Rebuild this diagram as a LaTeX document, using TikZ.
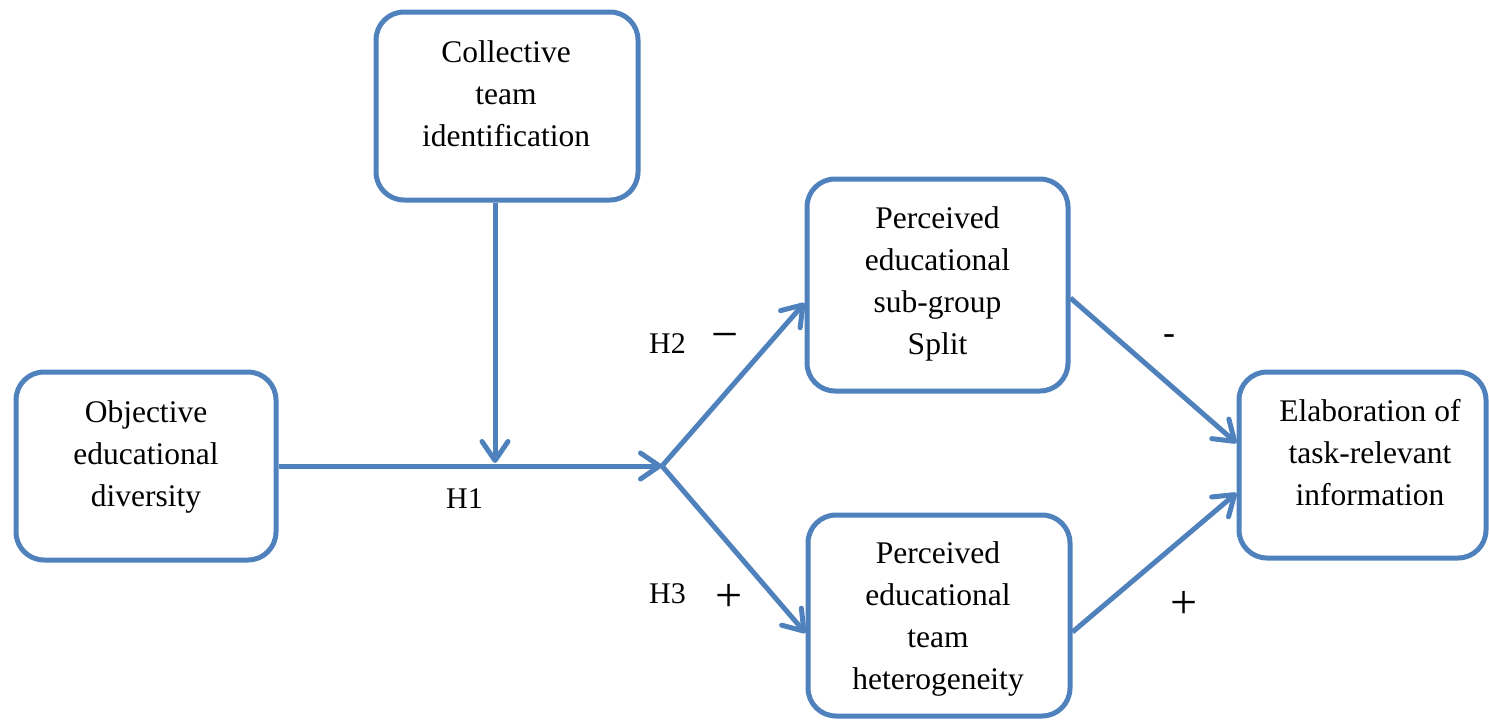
\documentclass[tikz,border=0pt]{standalone}
\usepackage{fontspec}
\setmainfont{Liberation Serif}
\usetikzlibrary{arrows.meta}
\definecolor{officeblue}{HTML}{4F81BD}
\tikzset{
  box/.style={draw=officeblue, line width=5pt, rounded corners=28pt, fill=white, inner sep=0pt},
  boxtext/.style={anchor=base, inner sep=0pt, font=\fontsize{31.5}{42}\selectfont},
  lbl/.style={anchor=base, inner sep=0pt, font=\fontsize{30}{36}\selectfont},
  sgn/.style={anchor=center, inner sep=0pt, font=\fontsize{48}{54}\selectfont},
  arr/.style={draw=officeblue, line width=5pt, -{Straight Barb[length=19pt, width=26pt, round]}}
}
\newcommand{\lines}[1]{\begin{tabular}[t]{@{}c@{}}#1\end{tabular}}
\begin{document}
\begin{tikzpicture}[x=1pt, y=-1pt]
\useasboundingbox (0,0) rectangle (1489,721);
% boxes
\node[box, minimum width=260pt, minimum height=188pt] (A) at (146,466) {};
\node[box, minimum width=262pt, minimum height=188pt] (B) at (507,106) {};
\node[box, minimum width=261pt, minimum height=212pt] (C) at (937.5,285) {};
\node[box, minimum width=262pt, minimum height=201pt] (D) at (939,615.5) {};
\node[box, minimum width=247pt, minimum height=186pt] (E) at (1362.5,465) {};
% box texts
\node[boxtext] (tA) at (146,422) {\lines{Objective\\educational\\diversity}};
\node[boxtext] (tB) at (506,62) {\lines{Collective\\team\\identification}};
\node[boxtext] (tC) at (937.5,228) {\lines{Perceived\\educational\\sub-group\\Split}};
\node[boxtext] (tD) at (938,563) {\lines{Perceived\\educational\\team\\heterogeneity}};
\node[boxtext] (tE) at (1370,421) {\lines{Elaboration of\\task-relevant\\information}};
% junction points
\coordinate (J) at (662,466);
\coordinate (T) at (495,463);
% connectors
\draw[arr] (A.east |- J) -- (J);
\draw[arr] (B.south -| T) -- (T);
\draw[arr] (J) -- ([yshift=-18pt]C.west);
\draw[arr] (J) -- ([yshift=-17.5pt]D.west);
\draw[arr] ([yshift=-13pt]C.east) -- ([yshift=22pt]E.west);
\draw[arr] ([yshift=-16.5pt]D.east) -- ([yshift=-28pt]E.west);
% labels
\node[lbl] (h1) at (464.5,508) {H1};
\node[lbl] (h2) at (667.5,353) {H2};
\node[lbl] (h3) at (667.5,603) {H3};
\node[sgn] (m1) at (725.5,342) {−};
\node[sgn] (p1) at (729.5,598) {+};
\node[sgn, font=\fontsize{36}{40}\selectfont] (m2) at (1169,340) {-};
\node[sgn] (p2) at (1184.5,605) {+};
\end{tikzpicture}
\end{document}
